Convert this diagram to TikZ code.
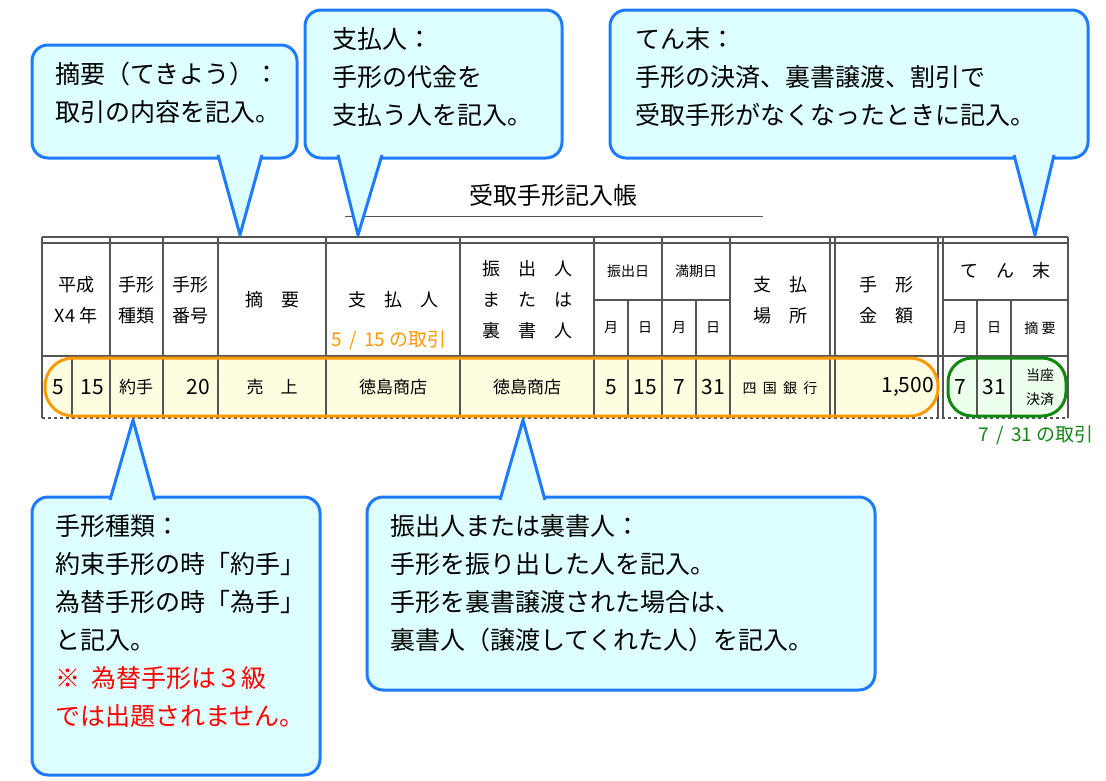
\documentclass[tikz,border=0pt]{standalone}
\usepackage{fontspec}
\setmainfont{Noto Sans CJK JP}
\definecolor{callblue}{HTML}{1E7BFF}
\definecolor{callfill}{HTML}{DDFFFF}
\definecolor{gridgray}{HTML}{555555}
\definecolor{bandorange}{HTML}{FF9900}
\definecolor{bandgreen}{HTML}{118811}
\tikzset{
  callout/.style={draw=callblue, fill=callfill, line width=3pt, rounded corners=16pt},
  calltext/.style={anchor=north west, align=left, font=\fontsize{25}{38}\selectfont, inner sep=0pt},
  gridline/.style={draw=gridgray, line width=2.5pt},
  head/.style={font=\fontsize{18}{31}\selectfont, align=center, inner sep=0pt},
  small/.style={font=\fontsize{14}{24}\selectfont, align=center, inner sep=0pt},
  cell/.style={font=\fontsize{21}{22}\selectfont, inner sep=0pt}
}
\newcommand{\pointer}[3]{% base left, base right, tip
  \fill[callfill] #1 -- #3 -- #2 -- cycle;
  \draw[callblue, line width=3pt, line join=round] #1 -- #3 -- #2;
}
\begin{document}
\begin{tikzpicture}[x=1pt, y=-1pt]
\useasboundingbox (0,0) rectangle (1106,780);

% title
\node[font=\fontsize{24}{24}\selectfont] (title) at (553,195) {受取手形記入帳};
\draw[gridgray, line width=1pt] (345,216) -- (763,216);

% bands behind the data row
\fill[fill=yellow!12, rounded corners=28pt] (45,358) rectangle (938,416);
\fill[fill=green!7, rounded corners=24pt] (948,358) rectangle (1066,416);

% table lines
\draw[gridline] (42,237) -- (1068,237);
\draw[gridline] (42,243) -- (1068,243);
\draw[gridline] (42,356) -- (1068,356);
\draw[gridline] (594,300) -- (730,300);
\draw[gridline] (943,300) -- (1068,300);
\draw[gridline, dashed, line width=1.5pt] (42,418) -- (1068,418);
\foreach \x in {42,110,163,218,326,460,594,662,730,830,835,938,943,1068}
  \draw[gridline] (\x,237) -- (\x,418);
\foreach \x in {628,696,977,1011}
  \draw[gridline] (\x,300) -- (\x,418);
\draw[gridline] (72,356) -- (72,418);

% band outlines
\draw[bandorange, line width=3pt, rounded corners=28pt] (45,358) rectangle (938,416);
\draw[bandgreen, line width=3pt, rounded corners=24pt] (948,358) rectangle (1066,416);

% header texts
\node[head] (hY) at (76,300) {平成\\X4 年};
\node[head] (hK) at (136,300) {手形\\種類};
\node[head] (hB) at (190,300) {手形\\番号};
\node[head] (hT) at (272,300) {摘\quad 要};
\node[head] (hS) at (393,300) {支\quad 払\quad 人};
\node[head] (hF) at (527,300) {振\quad 出\quad 人\\ま\quad た\quad は\\裏\quad 書\quad 人};
\node[small] (hFd) at (628,271) {振出日};
\node[small] (hMd) at (696,271) {満期日};
\foreach \x/\t [count=\i] in {611/月,645/日,679/月,713/日,960/月,994/日}
  \node[small] (hsub\i) at (\x,328) {\t};
\node[small] (hTs) at (1040,328) {摘 要};
\node[head] (hP) at (780,300) {支\quad 払\\場\quad 所};
\node[head] (hG) at (886,300) {手\quad 形\\金\quad 額};
\node[head] (hTen) at (1005,271) {て\quad ん\quad 末};
\node[font=\fontsize{19}{20}\selectfont, text=bandorange, anchor=east, inner sep=0pt] (dayA) at (447,340) {5 \,/\, 15 の取引};

% data row
\node[cell] (d1) at (58,387) {5};
\node[cell] (d2) at (92,387) {15};
\node[cell, font=\fontsize{17}{20}\selectfont] (d3) at (136,387) {約手};
\node[cell, anchor=east] (d4) at (210,387) {20};
\node[cell, font=\fontsize{17}{20}\selectfont] (d5) at (272,387) {売\quad 上};
\node[cell, font=\fontsize{17}{20}\selectfont] (d6) at (393,387) {徳島商店};
\node[cell, font=\fontsize{17}{20}\selectfont] (d7) at (527,387) {徳島商店};
\foreach \x/\t [count=\i] in {611/5,645/15,679/7,713/31,960/7,994/31}
  \node[cell] (dn\i) at (\x,387) {\t};
\node[small] (d8) at (780,388) {四\ \ 国\ \ 銀\ \ 行};
\node[cell, anchor=east] (d9) at (934,387) {1,500};
\node[small] (d10) at (1040,387) {当座\\決済};
\node[font=\fontsize{19}{20}\selectfont, text=bandgreen, inner sep=0pt] (dayB) at (1036,435) {7 \,/\, 31 の取引};

% callouts
\draw[callout] (32,45) rectangle (297,158);
\pointer{(218,155)}{(262,155)}{(240,235)}
\node[calltext] (cT) at (55,62) {摘要（てきよう）：\\取引の内容を記入。};

\draw[callout] (305,10) rectangle (562,158);
\pointer{(338,155)}{(382,155)}{(358,235)}
\node[calltext] (cS) at (332,27) {支払人：\\手形の代金を\\支払う人を記入。};

\draw[callout] (610,10) rectangle (1088,158);
\pointer{(1014,155)}{(1054,155)}{(1035,235)}
\node[calltext] (cTen) at (635,27) {てん末：\\手形の決済、裏書譲渡、割引で\\受取手形がなくなったときに記入。};

\draw[callout] (32,497) rectangle (320,775);
\pointer{(110,500)}{(155,500)}{(133,420)}
\node[calltext] (cK) at (55,514) {手形種類：\\約束手形の時「約手」\\為替手形の時「為手」\\と記入。\\\textcolor{red}{※\ \ 為替手形は３級}\\\textcolor{red}{では出題されません。}};

\draw[callout] (367,497) rectangle (875,690);
\pointer{(500,500)}{(545,500)}{(523,420)}
\node[calltext] (cF) at (390,514) {振出人または裏書人：\\手形を振り出した人を記入。\\手形を裏書譲渡された場合は、\\裏書人（譲渡してくれた人）を記入。};
\end{tikzpicture}
\end{document}
